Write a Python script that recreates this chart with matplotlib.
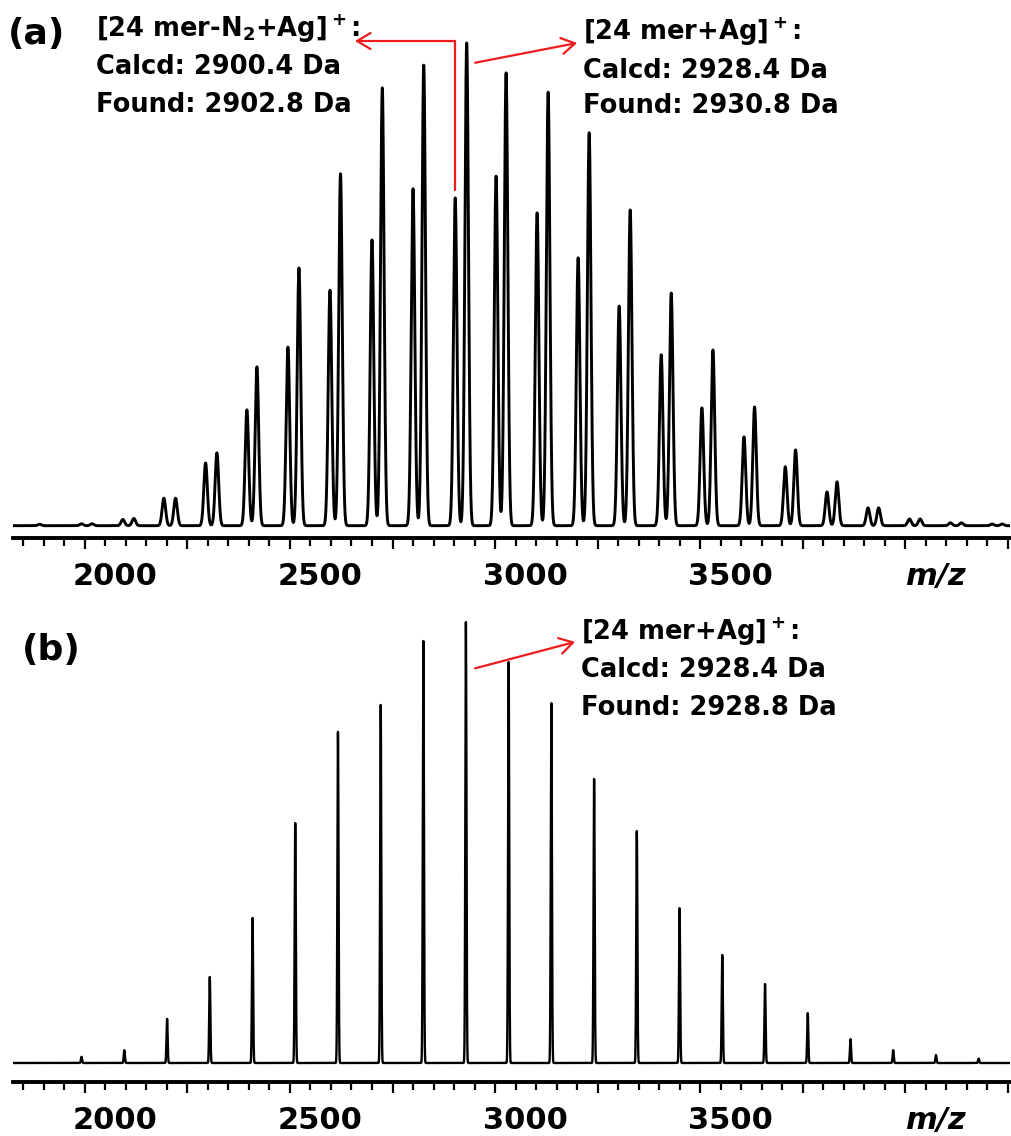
import numpy as np
import matplotlib
matplotlib.use("Agg")
import matplotlib.pyplot as plt
from matplotlib.ticker import FixedLocator, MultipleLocator
from matplotlib.transforms import ScaledTranslation

plt.rcParams['font.family'] = ['DejaVu Sans']
plt.rcParams['font.weight'] = 'bold'
plt.rcParams['mathtext.default'] = 'bf'

# (a) silver-cationized chains: intact [n mer+Ag]+ and after N2 loss
mz_a_intact = [2017.8, 2119.5, 2221.2, 2322.0, 2419.5, 2522.0, 2623.2, 2725.1,
               2826.1, 2930.8, 3026.8, 3129.3, 3229.3, 3329.3, 3429.3, 3531.0,
               3632.4, 3732.4, 3833.4, 3934.9, 4035.9, 4136.6, 4235.9]
int_a_intact = [0.4, 1.5, 5.7, 15.1, 32.9, 53.4, 72.9, 90.7,
                95.4, 100.0, 93.8, 89.8, 81.4, 65.4, 48.2, 36.4,
                24.6, 15.7, 9.1, 3.7, 1.4, 0.6, 0.35]
mz_a_loss = [1890.0, 1992.0, 2092.7, 2192.7, 2294.4, 2395.1, 2495.1, 2597.6,
             2700.0, 2800.0, 2902.8, 3002.4, 3102.4, 3202.4, 3302.4, 3404.9,
             3504.1, 3606.6, 3707.3, 3809.0, 3909.0, 4009.8, 4109.8, 4211.5]
int_a_loss = [0.3, 0.4, 1.3, 5.7, 13.0, 24.0, 37.0, 48.8,
              59.2, 69.8, 67.9, 72.4, 64.8, 55.5, 45.5, 35.4,
              24.4, 18.4, 12.2, 7.0, 3.7, 1.4, 0.6, 0.35]

# (b) [n mer+Ag]+ series only
mz_b = [1992.0, 2096.3, 2200.5, 2304.6, 2408.8, 2512.9, 2617.0, 2721.2,
        2825.2, 2928.8, 3033.0, 3137.1, 3241.3, 3345.4, 3449.6, 3553.7,
        3657.9, 3762.0, 3866.2, 3970.3, 4074.5, 4178.6]
int_b = [1.4, 2.9, 10.0, 19.5, 32.9, 54.4, 75.1, 81.2,
         95.7, 100.0, 90.9, 81.6, 64.4, 52.6, 35.1, 24.5,
         17.9, 11.3, 5.4, 2.9, 1.8, 1.0]

tick_values = [2000, 2250, 2500, 2750, 3000, 3250, 3500, 3750, 4000, 4250]
tick_labels = ['2000', '', '2500', '', '3000', '', '3500', '', 'm/z', '']

mz_range = (1825, 4255)
RED = '#ee1c1c'


def spectrum(grid, centers, heights, sigma):
    c = np.asarray(centers)[:, None]
    h = np.asarray(heights)[:, None]
    return (h * np.exp(-0.5 * ((grid[None, :] - c) / sigma) ** 2)).sum(axis=0)


W, H = 1011, 1136
fig = plt.figure(figsize=(W / 100, H / 100), dpi=100)


def px_axes(left, top, right, bottom):
    return fig.add_axes([left / W, 1 - bottom / H, (right - left) / W, (bottom - top) / H])


def style_axis(ax, ylim):
    ax.set_xlim(*mz_range)
    ax.set_ylim(*ylim)
    for s in ('left', 'right', 'top'):
        ax.spines[s].set_visible(False)
    ax.spines['bottom'].set_linewidth(2.8)
    ax.set_yticks([])
    ax.xaxis.set_major_locator(FixedLocator(tick_values))
    ax.xaxis.set_minor_locator(MultipleLocator(50))
    ax.set_xticklabels(tick_labels)
    ax.tick_params(axis='x', which='major', length=8, width=1.6, pad=9,
                   labelsize=22)
    ax.tick_params(axis='x', which='minor', length=6, width=1.6)
    shift = ScaledTranslation(0.30, 0, fig.dpi_scale_trans)
    for lab in ax.get_xticklabels():
        lab.set_transform(lab.get_transform() + shift)
        lab.set_fontweight('bold')
    ax.get_xticklabels()[8].set_style('italic')
    ax.patch.set_visible(False)


grid = np.linspace(mz_range[0], mz_range[1], 24301)
arrow_style = '->,head_length=0.6,head_width=0.36'
fs = 18.5

# ---- panel (a)
ax_a = px_axes(13, 0, 1010, 538)
ya = spectrum(grid, mz_a_intact + mz_a_loss, int_a_intact + int_a_loss, 4.3)
ax_a.plot(grid, ya, color='black', lw=2.1)
style_axis(ax_a, (-2.55, 108.9))

ax_a.annotate('', xy=(2658.5, 100.4), xytext=(2902.8, 69.6),
              arrowprops=dict(arrowstyle=arrow_style,
                              connectionstyle='angle,angleA=90,angleB=0,rad=0',
                              color=RED, lw=1.6, shrinkA=0, shrinkB=0,
                              mutation_scale=16))
ax_a.annotate('', xy=(3200.0, 100.0), xytext=(2951.2, 95.9),
              arrowprops=dict(arrowstyle=arrow_style,
                              color=RED, lw=1.6, shrinkA=0, shrinkB=0,
                              mutation_scale=16))

ax_a.text(2026.8, 101.2, r'[24 mer-N$_2$+Ag]$^+$:', fontsize=fs, va='baseline')
ax_a.text(2026.8, 93.6, 'Calcd: 2900.4 Da', fontsize=fs, va='baseline')
ax_a.text(2026.8, 85.7, 'Found: 2902.8 Da', fontsize=fs, va='baseline')
ax_a.text(3214.0, 100.6, r'[24 mer+Ag]$^+$:', fontsize=fs, va='baseline')
ax_a.text(3214.0, 92.8, 'Calcd: 2928.4 Da', fontsize=fs, va='baseline')
ax_a.text(3214.0, 85.5, 'Found: 2930.8 Da', fontsize=fs, va='baseline')

fig.text(8 / W, 1 - 44 / H, '(a)', fontsize=26, va='baseline')

# ---- panel (b)
ax_b = px_axes(13, 600, 1010, 1082)
yb = spectrum(grid, mz_b, int_b, 1.4)
ax_b.plot(grid, yb, color='black', lw=1.7)
style_axis(ax_b, (-4.31, 105.0))

ax_b.annotate('', xy=(3195.0, 95.5), xytext=(2951.2, 89.5),
              arrowprops=dict(arrowstyle=arrow_style,
                              color=RED, lw=1.6, shrinkA=0, shrinkB=0,
                              mutation_scale=16))
ax_b.text(3209.0, 96.0, r'[24 mer+Ag]$^+$:', fontsize=fs, va='baseline')
ax_b.text(3209.0, 87.5, 'Calcd: 2928.4 Da', fontsize=fs, va='baseline')
ax_b.text(3209.0, 79.0, 'Found: 2928.8 Da', fontsize=fs, va='baseline')

fig.text(22 / W, 1 - 660 / H, '(b)', fontsize=26, va='baseline')

fig.savefig('out.png', dpi=100)
